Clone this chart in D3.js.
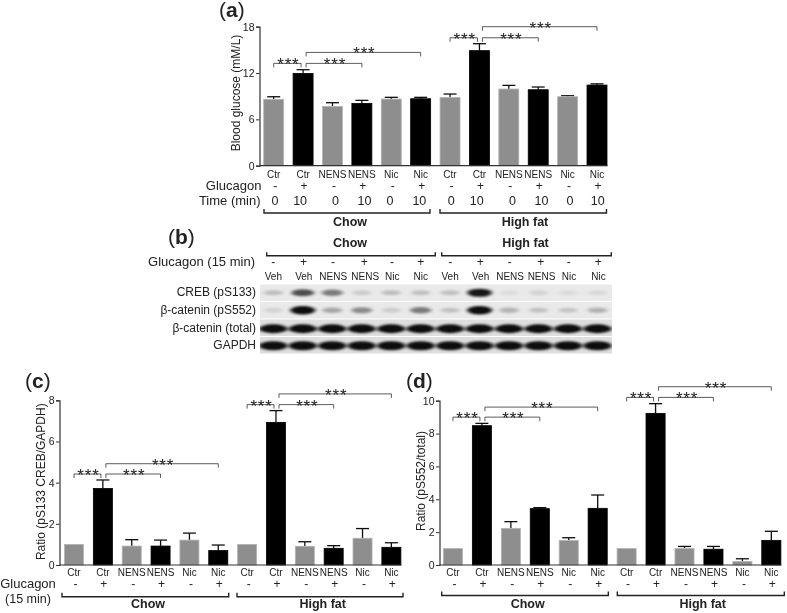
<!DOCTYPE html>
<html>
<head>
<meta charset="utf-8">
<script src="https://cdn.jsdelivr.net/npm/d3@7"></script>
<style>
    html, body { margin: 0; padding: 0; background: #fff; }
    svg { display: block; }
    text { font-family: "Liberation Sans", Arial, sans-serif; fill: #222; }
</style>
</head>
<body>
<svg id="figure" width="787" height="613"></svg>
<script>
// Shared categories
const treatments = ["Ctr", "Ctr", "NENS", "NENS", "Nic", "Nic", "Ctr", "Ctr", "NENS", "NENS", "Nic", "Nic"];
const glucagon = ["-", "+", "-", "+", "-", "+", "-", "+", "-", "+", "-", "+"];
const timeMin = ["0", "10", "0", "10", "0", "10", "0", "10", "0", "10", "0", "10"];
const groups = ["Chow", "High fat"];

// Panel a
const glucoseMean = [8.6, 11.95, 7.68, 8.07, 8.63, 8.67, 8.85, 14.9, 9.93, 9.84, 8.93, 10.44];
const glucoseErr = [0.33, 0.48, 0.48, 0.39, 0.22, 0.18, 0.43, 0.9, 0.47, 0.35, 0.13, 0.16];
const glucoseTicks = [0, 6, 12, 18];
// from bar, to bar, bracket level
const glucoseBrackets = [[0, 1, 13.25], [1, 3, 13.25], [1, 5, 14.67], [6, 7, 16.57], [7, 9, 16.57], [7, 11, 18]];

// Panel c
const creebMean = [1, 3.72, 0.92, 0.92, 1.21, 0.7, 1, 6.93, 0.91, 0.81, 1.3, 0.86];
const creebErr = [0, 0.41, 0.31, 0.29, 0.34, 0.27, 0, 0.57, 0.22, 0.13, 0.47, 0.22];
const creebTicks = [0, 2, 4, 6, 8];
const creebBrackets = [[0, 1, 4.42], [1, 3, 4.42], [1, 5, 4.92], [6, 7, 7.79], [7, 9, 7.79], [7, 11, 8.31]];

// Panel d
const cateninMean = [1, 8.48, 2.23, 3.43, 1.5, 3.45, 1, 9.23, 1.0, 0.96, 0.22, 1.5];
const cateninErr = [0, 0.14, 0.41, 0.06, 0.16, 0.81, 0, 0.59, 0.13, 0.17, 0.16, 0.55];
const cateninTicks = [0, 2, 4, 6, 8, 10];
const cateninBrackets = [[0, 1, 9], [1, 3, 9], [1, 5, 9.61], [6, 7, 10.2], [7, 9, 10.2], [7, 11, 10.85]];

// Panel b, band darkness per lane
const blotLanes = ["Veh", "Veh", "NENS", "NENS", "Nic", "Nic", "Veh", "Veh", "NENS", "NENS", "Nic", "Nic"];
const blotRows = ["CREB (pS133)", "\u03b2-catenin (pS552)", "\u03b2-catenin (total)", "GAPDH"];
const blotCreb = [0.2, 0.7, 0.5, 0.13, 0.2, 0.18, 0.18, 0.95, 0.06, 0.1, 0.07, 0.08];
const blotPs552 = [0.1, 1, 0.3, 0.42, 0.13, 0.5, 0.18, 1, 0.24, 0.18, 0.16, 0.25];
const blotTotal = [1, 1, 1, 1, 1, 1, 1, 1, 1, 1, 1, 1];
const blotGapdh = [1, 1, 1, 1, 1, 1, 1, 1, 1, 1, 1, 1];

const svg = d3.select("#figure");
const defs = svg.append("defs");
defs.append("filter").attr("id", "soft")
    .attr("x", "-2%").attr("y", "-2%").attr("width", "104%").attr("height", "104%")
    .append("feGaussianBlur").attr("stdDeviation", 0.35);
defs.append("filter").attr("id", "band")
    .attr("x", "-30%").attr("y", "-80%").attr("width", "160%").attr("height", "260%")
    .append("feGaussianBlur").attr("stdDeviation", "1.9 1.2");

const root = svg.append("g").attr("filter", "url(#soft)");

function panelLetter(letter, x, y) {
    const t = root.append("text").attr("x", x).attr("y", y).attr("font-size", 21);
    t.append("tspan").text("(");
    t.append("tspan").attr("font-weight", "bold").text(letter);
    t.append("tspan").text(")");
}

function groupBracket(x1, x2, y, h) {
    root.append("path")
        .attr("d", d3.line()([[x1, y + h], [x1, y], [x2, y], [x2, y + h]]))
        .attr("fill", "none").attr("stroke", "#222").attr("stroke-width", 1.4);
}

function drawBars(cfg) {
    const x = d3.scaleBand()
        .domain(d3.range(treatments.length))
        .range(cfg.xRange)
        .paddingInner(cfg.pad).paddingOuter(cfg.pad / 2);
    const y = d3.scaleLinear().domain([0, cfg.max]).range([cfg.y0, cfg.yTop]);
    const cx = i => x(i) + x.bandwidth() / 2;
    const g = root.append("g");

    // error bars go under the bars
    const err = g.append("g").attr("stroke", "#111").attr("stroke-width", 1.3);
    cfg.mean.forEach((m, i) => {
        if (!cfg.err[i]) return;
        const top = y(m + cfg.err[i]);
        err.append("line").attr("x1", cx(i)).attr("x2", cx(i)).attr("y1", y(m)).attr("y2", top);
        err.append("line").attr("x1", cx(i) - 6.5).attr("x2", cx(i) + 6.5).attr("y1", top).attr("y2", top);
    });

    g.selectAll("rect.bar").data(cfg.mean).enter().append("rect")
        .attr("class", "bar")
        .attr("x", (d, i) => x(i))
        .attr("y", d => y(d))
        .attr("width", x.bandwidth())
        .attr("height", d => cfg.y0 - y(d))
        .attr("fill", (d, i) => i % 2 ? "#000" : "#8e8e8e")
        .attr("stroke", (d, i) => i % 2 ? "#000" : "#b5b5b5")
        .attr("stroke-width", 0.8);

    const yAxis = g.append("g").attr("transform", "translate(" + cfg.axisX + ",0)")
        .call(d3.axisLeft(y).tickValues(cfg.ticks).tickSize(3.5).tickPadding(1.5));
    yAxis.selectAll("text").attr("font-size", 10.5).attr("font-family", null);

    const xAxis = g.append("g").attr("transform", "translate(0," + cfg.y0 + ")")
        .call(d3.axisBottom(x).tickSize(0).tickPadding(cfg.labelPad).tickFormat(i => treatments[i]));
    xAxis.selectAll("text").attr("font-size", 10).attr("font-family", null);
    // the baseline stops at the last bar, not at the end of the band range
    xAxis.select(".domain").attr("d", d3.line()([[cfg.axisX, 0], [x(11) + x.bandwidth() + 0.5, 0]]));
    g.selectAll(".domain").attr("stroke", "#333").attr("stroke-width", 1.2);
    g.selectAll(".tick line").attr("stroke", "#333").attr("stroke-width", 1);

    // y axis title
    root.append("text")
        .attr("transform", "translate(" + cfg.titleX + "," + cfg.titleY + ") rotate(-90)")
        .attr("text-anchor", "middle").attr("dominant-baseline", "middle")
        .attr("font-size", cfg.titleSize).text(cfg.title);

    // glucagon signs
    root.append("g").selectAll("text").data(glucagon).enter().append("text")
        .attr("x", (d, i) => cx(i) + (i % 2 ? 1 : 1.5))
        .attr("y", cfg.signY).attr("text-anchor", "middle")
        .attr("dominant-baseline", "middle").attr("font-size", 12)
        .text(d => d);

    // significance brackets
    const br = root.append("g");
    cfg.brackets.forEach(b => {
        const x1 = cx(b[0]) + (b[0] % 2 ? 3 : 0);
        const x2 = cx(b[1]) - (b[1] - b[0] === 1 ? 2 : 0);
        const ly = y(b[2]);
        br.append("path")
            .attr("d", d3.line()([[x1, ly + 4], [x1, ly], [x2, ly], [x2, ly + 4]]))
            .attr("fill", "none").attr("stroke", "#333").attr("stroke-width", 0.8);
        br.append("text")
            .attr("x", (x1 + x2) / 2 + 1).attr("y", ly + 7)
            .attr("text-anchor", "middle").attr("font-size", 17)
            .attr("letter-spacing", 0.8).text("***");
    });

    // diet brackets
    cfg.spans.forEach((s, k) => {
        groupBracket(s[0], s[1], cfg.spanY + cfg.spanH, -cfg.spanH);
        root.append("text").attr("x", s[2]).attr("y", cfg.groupY)
            .attr("text-anchor", "middle").attr("dominant-baseline", "middle")
            .attr("font-size", 12.5).attr("font-weight", "bold").text(groups[k]);
    });
    return cx;
}

// (a)
panelLetter("a", 219, 17);
const cxA = drawBars({
    xRange: [259, 611.7], axisX: 259.5, y0: 165.7, yTop: 26.7, max: 18, pad: 0.32, labelPad: 5.5,
    mean: glucoseMean, err: glucoseErr, ticks: glucoseTicks, brackets: glucoseBrackets,
    title: "Blood glucose (mM/L)", titleX: 237, titleY: 93, titleSize: 12,
    signY: 187, spans: [[264, 430, 350], [440, 606.5, 525]], spanY: 209, spanH: 4, groupY: 222.5
});
root.append("text").attr("x", 261.5).attr("y", 187).attr("text-anchor", "end")
    .attr("dominant-baseline", "middle").attr("font-size", 13).text("Glucagon");
root.append("text").attr("x", 260.5).attr("y", 201.5).attr("text-anchor", "end")
    .attr("dominant-baseline", "middle").attr("font-size", 13).text("Time (min)");
const timeNudge = [1.3, -3, 3, 2.7, -1.3, -1.3, 1.3, -2.7, 3.7, 3.3, 2.3, 0.7];
root.append("g").selectAll("text").data(timeMin).enter().append("text")
    .attr("x", (d, i) => cxA(i) + timeNudge[i]).attr("y", 201.5)
    .attr("text-anchor", "middle").attr("dominant-baseline", "middle")
    .attr("font-size", 12.5).text(d => d);

// (b)
panelLetter("b", 168, 244);
function drawBlot() {
    const lane = d3.scaleBand().domain(d3.range(blotLanes.length)).range([258.6, 612.2]);
    const row = d3.scaleBand().domain(blotRows).range([284, 354]);
    const rowData = [blotCreb, blotPs552, blotTotal, blotGapdh];
    const bandH = [4, 4.2, 4.4, 4.6];
    const rowNudge = [0, 0, 1, 0.5];
    const laneC = i => lane(i) + lane.bandwidth() / 2;
    const labelNudge = [0, 1, 1, 3.5, 1, 0, 0, 1, 1, 3, 1, 1];

    rowData.forEach((vals, r) => {
        const y0 = row(blotRows[r]);
        const clipId = "row" + r;
        defs.append("clipPath").attr("id", clipId).append("rect")
            .attr("x", 260).attr("y", y0 + 0.5).attr("width", 352).attr("height", row.bandwidth() - 1);
        const g = root.append("g").attr("clip-path", "url(#" + clipId + ")");
        g.append("rect").attr("x", 260).attr("y", y0).attr("width", 352).attr("height", row.bandwidth())
            .attr("fill", r < 2 ? "#e9e9e9" : "#dedede");
        g.selectAll("ellipse").data(vals).enter().append("ellipse")
            .attr("cx", (d, i) => laneC(i))
            .attr("cy", y0 + row.bandwidth() / 2 + rowNudge[r])
            .attr("rx", d => r < 2 ? 9 + d * 3.5 : 14.2)
            .attr("ry", d => r < 2 ? 2.2 + d * 2 : bandH[r])
            .attr("fill", "#000").attr("opacity", d => d * 0.95)
            .attr("filter", "url(#band)");
    });

    root.append("g").selectAll("text").data(blotRows).enter().append("text")
        .attr("x", 256).attr("y", (d, i) => row(d) + row.bandwidth() / 2 + 0.5 + rowNudge[i])
        .attr("text-anchor", "end").attr("dominant-baseline", "middle")
        .attr("font-size", 12).text(d => d);
    root.append("g").selectAll("text").data(blotLanes).enter().append("text")
        .attr("x", (d, i) => laneC(i) + labelNudge[i]).attr("y", 277.5)
        .attr("text-anchor", "middle").attr("dominant-baseline", "middle")
        .attr("font-size", 10).text(d => d);
    root.append("g").selectAll("text").data(glucagon).enter().append("text")
        .attr("x", (d, i) => laneC(i) + labelNudge[i] * 0.7).attr("y", 263)
        .attr("text-anchor", "middle").attr("dominant-baseline", "middle")
        .attr("font-size", 12).text(d => d);
    root.append("text").attr("x", 255).attr("y", 263).attr("text-anchor", "end")
        .attr("dominant-baseline", "middle").attr("font-size", 13).text("Glucagon (15 min)");
    groupBracket(266.7, 435.3, 255.7, -3.5);
    groupBracket(441.7, 611.3, 255.7, -3.5);
    root.append("text").attr("x", 350).attr("y", 244).attr("text-anchor", "middle")
        .attr("dominant-baseline", "middle").attr("font-size", 12.5).attr("font-weight", "bold").text(groups[0]);
    root.append("text").attr("x", 525.5).attr("y", 244).attr("text-anchor", "middle")
        .attr("dominant-baseline", "middle").attr("font-size", 12.5).attr("font-weight", "bold").text(groups[1]);
}
drawBlot();

// (c)
panelLetter("c", 25, 388);
drawBars({
    xRange: [59.6, 405.8], axisX: 59.5, y0: 565, yTop: 400.3, max: 8, pad: 0.34, labelPad: 4,
    mean: creebMean, err: creebErr, ticks: creebTicks, brackets: creebBrackets,
    title: "Ratio (pS133 CREB/GAPDH)", titleX: 42, titleY: 481.7, titleSize: 12,
    signY: 585, spans: [[62, 228.7, 148], [237, 403, 322.7]], spanY: 592.7, spanH: 4, groupY: 605
});
root.append("text").attr("x", 28).attr("y", 585).attr("text-anchor", "middle")
    .attr("dominant-baseline", "middle").attr("font-size", 13).text("Glucagon");
root.append("text").attr("x", 28).attr("y", 600).attr("text-anchor", "middle")
    .attr("dominant-baseline", "middle").attr("font-size", 12.5).text("(15 min)");

// (d)
panelLetter("d", 406, 388);
drawBars({
    xRange: [438.5, 785.8], axisX: 439.5, y0: 565, yTop: 400.7, max: 10, pad: 0.34, labelPad: 4,
    mean: cateninMean, err: cateninErr, ticks: cateninTicks, brackets: cateninBrackets,
    title: "Ratio (pS552/total)", titleX: 421.7, titleY: 481, titleSize: 12,
    signY: 585, spans: [[441.7, 608.3, 527.7], [617.3, 784.3, 702.7]], spanY: 591.5, spanH: 4, groupY: 604.7
});
</script>
</body>
</html>
